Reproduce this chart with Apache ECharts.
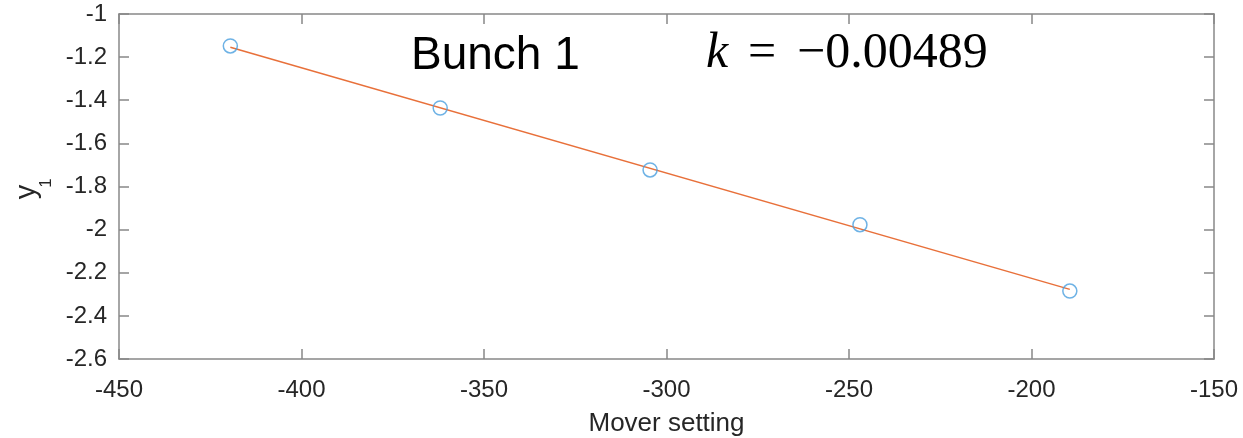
<!DOCTYPE html>
<html>
<head>
<meta charset="utf-8">
<script src="https://cdn.jsdelivr.net/npm/echarts@6/dist/echarts.min.js"></script>
<style>
  html, body { margin: 0; padding: 0; background: #fff; }
  #main { width: 1243px; height: 438px; }
</style>
</head>
<body>
<div id="main"></div>
<script>
// measured points
const moverSetting = [-419.5, -362, -304.5, -247, -189.5];
const y1Values = [-1.148, -1.436, -1.723, -1.977, -2.285];
// fitted line end points
const fitX = [-419.5, -189.5];
const fitY = [-1.154, -2.277];
const xTicks = { min: -450, max: -150, step: 50 };
const yTicks = { min: -2.6, max: -1, step: 0.2 };

let chartDom = document.getElementById("main");
let myChart = echarts.init(chartDom);
let option;

const axisGray = "#888888";
const textColor = "#262626";
const font = "'Liberation Sans', Arial, Helvetica, sans-serif";
const serif = "'Liberation Serif', 'Times New Roman', serif";

const scatterData = moverSetting.map((x, i) => [x, y1Values[i]]);
const fitData = fitX.map((x, i) => [x, fitY[i]]);

const boxAxis = {
  axisLine: { show: true, onZero: false, lineStyle: { color: axisGray, width: 1.5 } },
  axisTick: { show: true, inside: true, length: 10, lineStyle: { color: axisGray, width: 1.5 } },
  splitLine: { show: false }
};

option = {
  animation: false,
  grid: {
    left: 119,
    right: 29,
    top: 14,
    bottom: 79,
    containLabel: false,
    outerBoundsMode: "none"
  },
  graphic: [
    {
      type: "text",
      left: 411,
      top: 33,
      style: { text: "Bunch 1", font: "46px " + font, fill: "#000" }
    },
    {
      type: "text",
      left: 706,
      top: 29,
      style: { text: "k", font: "italic 50px " + serif, fill: "#000" }
    },
    {
      type: "text",
      left: 748,
      top: 29,
      style: { text: "=", font: "50px " + serif, fill: "#000" }
    },
    {
      type: "text",
      left: 797,
      top: 29,
      style: { text: "−0.00489", font: "50px " + serif, fill: "#000" }
    },
    // y-axis label y_1, rotated
    {
      type: "text",
      x: 27,
      y: 192,
      rotation: Math.PI / 2,
      style: { text: "y", font: "29px " + font, fill: textColor, align: "center", verticalAlign: "middle" }
    },
    {
      type: "text",
      x: 46,
      y: 183,
      rotation: Math.PI / 2,
      style: { text: "1", font: "17px " + font, fill: textColor, align: "center", verticalAlign: "middle" }
    }
  ],
  xAxis: [
    Object.assign({}, boxAxis, {
      type: "value",
      min: xTicks.min,
      max: xTicks.max,
      interval: xTicks.step,
      name: "Mover setting",
      nameLocation: "middle",
      nameGap: 52,
      nameTextStyle: { fontSize: 26, color: textColor, fontFamily: font },
      axisLabel: { fontSize: 24, color: textColor, fontFamily: font, margin: 19 }
    }),
    Object.assign({}, boxAxis, {
      type: "value",
      position: "top",
      min: xTicks.min,
      max: xTicks.max,
      interval: xTicks.step,
      axisLabel: { show: false }
    })
  ],
  yAxis: [
    Object.assign({}, boxAxis, {
      type: "value",
      min: yTicks.min,
      max: yTicks.max,
      interval: yTicks.step,
      axisLabel: {
        fontSize: 24,
        color: textColor,
        fontFamily: font,
        margin: 12,
        formatter: v => String(Math.round(v * 10) / 10)
      }
    }),
    Object.assign({}, boxAxis, {
      type: "value",
      position: "right",
      min: yTicks.min,
      max: yTicks.max,
      interval: yTicks.step,
      axisLabel: { show: false }
    })
  ],
  series: [
    {
      name: "fit",
      type: "line",
      data: fitData,
      symbol: "none",
      lineStyle: { color: "#e8703a", width: 1.5 },
      z: 2
    },
    {
      name: "data",
      type: "scatter",
      data: scatterData,
      symbol: "circle",
      symbolSize: 14,
      itemStyle: { color: "rgba(0,0,0,0)", borderColor: "#4a9fdf", borderWidth: 1.5 },
      z: 3
    }
  ]
};

option && myChart.setOption(option);
</script>
</body>
</html>
